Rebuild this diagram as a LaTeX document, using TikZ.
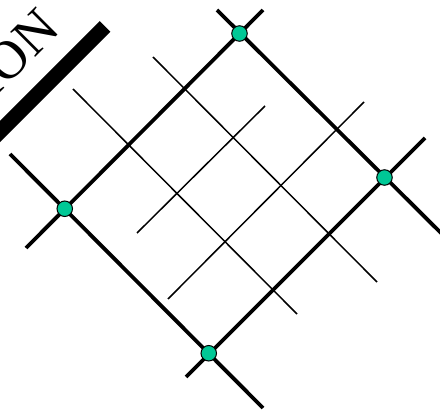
\documentclass[tikz,border=0pt]{standalone}
\usepackage{fontspec}
\setmainfont{Liberation Serif}
\definecolor{nodegreen}{RGB}{0,200,150}
\begin{document}
\begin{tikzpicture}[x=1pt,y=-1pt,
  thickline/.style={line width=3.8pt},
  thinline/.style={line width=1.5pt},
  vertex/.style={circle,draw=black,line width=1pt,fill=nodegreen,minimum size=15.5pt,inner sep=0pt},
  bar/.style={line width=15pt},
  label/.style={font=\fontsize{54}{54}\selectfont,rotate=45,anchor=base east,inner sep=0pt}]
\useasboundingbox (0,0) rectangle (440,412);
\clip (0,0) rectangle (440,412);
% named points
\coordinate (l1a) at (26,248);
\coordinate (l1b) at (263,10);
\coordinate (l2a) at (217,10);
\coordinate (l2b) at (450,242);
\coordinate (l3a) at (425,138);
\coordinate (l3b) at (186,377);
\coordinate (l4a) at (10,154);
\coordinate (l4b) at (263,408);
\coordinate (aS) at (73,89);   \coordinate (aE) at (297,314);
\coordinate (bS) at (153,57);  \coordinate (bE) at (377,282);
\coordinate (cS) at (137,233); \coordinate (cE) at (265,106);
\coordinate (dS) at (168,299); \coordinate (dE) at (364,102);
\coordinate (barA) at (-30,161.5);
\coordinate (barB) at (105,26.5);
% thin grid lines
\draw[thinline] (aS) -- (aE);
\draw[thinline] (bS) -- (bE);
\draw[thinline] (cS) -- (cE);
\draw[thinline] (dS) -- (dE);
% thick frame
\draw[thickline] (l1a) -- (l1b);
\draw[thickline] (l2a) -- (l2b);
\draw[thickline] (l3a) -- (l3b);
\draw[thickline] (l4a) -- (l4b);
% bar and text
\draw[bar] (barA) -- (barB);
\node[label] (txt) at (62,31) {ION};
% vertices
\node[vertex] (top) at (239.5,33.5) {};
\node[vertex] (right) at (384.5,177.5) {};
\node[vertex] (bottom) at (208.75,353.25) {};
\node[vertex] (left) at (64.75,208.75) {};
\end{tikzpicture}
\end{document}
